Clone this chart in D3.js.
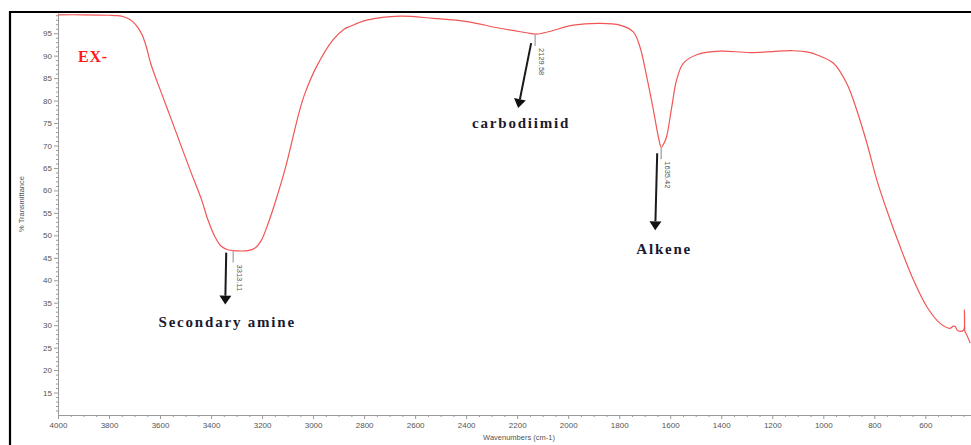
<!DOCTYPE html>
<html>
<head>
<meta charset="utf-8">
<script src="https://cdn.jsdelivr.net/npm/d3@7"></script>
<style>
  body { margin: 0; background: #fff; }
  .axis text { font-family: "Liberation Sans", Arial, sans-serif; font-size: 8px; fill: #555; }
  .axis path, .axis line { stroke: #9a9a9a; }
  .note { font-family: "Liberation Serif", "Times New Roman", serif; font-weight: bold; font-size: 15px; letter-spacing: 1.8px; fill: #1a1a2e; }
</style>
</head>
<body>
<div id="plot"></div>
<script>
// Spectrum (cm-1, %T)
const wavenumbers = [4000, 3900, 3800, 3765, 3740, 3720, 3702, 3686, 3670, 3655, 3634, 3594, 3555, 3516, 3477, 3437, 3412, 3385, 3359, 3335, 3313, 3255, 3229, 3202, 3176, 3150, 3111, 3072, 3052, 3032, 2987, 2922, 2876, 2856, 2790, 2660, 2529, 2398, 2268, 2163, 2130, 2100, 2059, 1980, 1876, 1797, 1745, 1719, 1692, 1666, 1645, 1635, 1622, 1614, 1594, 1575, 1549, 1496, 1405, 1287, 1117, 1060, 1026, 960, 908, 869, 829, 790, 751, 699, 647, 594, 542, 503, 490, 483, 475, 464, 450, 447, 444, 441, 424];
const transmittance = [99.1, 99.1, 99.0, 98.9, 98.6, 98.1, 97.3, 96.2, 94.6, 92.2, 87.8, 81.6, 75.7, 69.7, 63.8, 57.9, 53.4, 49.7, 47.5, 46.8, 46.6, 46.6, 47.1, 49.0, 52.7, 57.1, 64.5, 73.5, 78.0, 81.6, 87.5, 93.5, 96.0, 96.5, 97.9, 98.8, 98.3, 97.6, 96.1, 95.1, 94.8, 95.0, 95.6, 96.8, 97.2, 96.8, 95.3, 92.0, 85.3, 77.9, 71.5, 69.6, 70.8, 72.0, 78.6, 84.6, 88.3, 90.2, 91.0, 90.7, 91.1, 90.8, 90.2, 88.3, 83.8, 77.9, 70.5, 62.3, 55.6, 47.5, 40.1, 34.1, 30.4, 29.3, 29.8, 29.7, 28.9, 28.6, 28.9, 33.4, 28.4, 28.2, 26.0];

// Marked peaks
const peakWavenumbers = [3313.11, 2129.58, 1635.42];
const peakValues = [46.6, 94.8, 69.6];
const peakNames = ["Secondary amine", "carbodiimid", "Alkene"];

// Tick values
const xMajorTicks = d3.range(4000, 599, -200);
const xMinorTicks = d3.range(4000, 420, -50).filter(v => v % 200 !== 0);
const yMajorTicks = d3.range(15, 100, 5);
const yMinorTicks = d3.range(11, 100, 1).filter(v => v % 5 !== 0);

const data = wavenumbers.map((w, i) => ({wn: w, t: transmittance[i]}));

// The SVG dimensions
const W = 971, H = 445;
const margin = {top: 13, right: 0, bottom: 30, left: 58},
width = W - margin.left - margin.right,
height = H - margin.top - margin.bottom;

const x = d3.scaleLinear().domain([4000, 421]).range([0, width]);
const y = d3.scaleLinear().domain([10, 99.5]).range([height, 0]);

const svg = d3.select("#plot")
  .append("svg")
  .attr("width", W)
  .attr("height", H);

// black frame (clipped at right and bottom in the original)
svg.append("line").attr("x1", 9).attr("x2", W).attr("y1", 12).attr("y2", 12)
  .attr("stroke", "#000").attr("stroke-width", 2.2);
svg.append("line").attr("x1", 10).attr("x2", 10).attr("y1", 11).attr("y2", H)
  .attr("stroke", "#000").attr("stroke-width", 2.2);

const g = svg.append("g")
  .attr("transform", `translate(${margin.left},${margin.top})`);

// Axes
g.append("g").attr("class", "axis")
  .attr("transform", `translate(0,${height})`)
  .call(d3.axisBottom(x).tickValues(xMinorTicks).tickSize(2).tickSizeOuter(0).tickFormat(""));
g.append("g").attr("class", "axis")
  .attr("transform", `translate(0,${height})`)
  .call(d3.axisBottom(x).tickValues(xMajorTicks).tickSize(4).tickSizeOuter(0).tickPadding(3).tickFormat(d3.format("d")))
  .call(a => a.select(".domain").remove());

g.append("g").attr("class", "axis")
  .call(d3.axisLeft(y).tickValues(yMinorTicks).tickSize(2).tickSizeOuter(0).tickFormat(""));
g.append("g").attr("class", "axis")
  .call(d3.axisLeft(y).tickValues(yMajorTicks).tickSize(4).tickSizeOuter(0).tickPadding(2).tickFormat(d3.format("d")))
  .call(a => a.select(".domain").remove());

// Axis titles
svg.append("text")
  .attr("transform", "translate(24,204) rotate(-90)")
  .attr("text-anchor", "middle")
  .style("font-family", "Liberation Sans, Arial, sans-serif")
  .style("font-size", "7.5px").style("fill", "#555")
  .text("% Transmittance");
svg.append("text")
  .attr("x", 519).attr("y", 440)
  .attr("text-anchor", "middle")
  .style("font-family", "Liberation Sans, Arial, sans-serif")
  .style("font-size", "7.5px").style("fill", "#555")
  .text("Wavenumbers (cm-1)");

// Spectrum line
const valueline = d3.line()
  .x(d => x(d.wn))
  .y(d => y(d.t))
  .curve(d3.curveCatmullRom.alpha(0.5));

g.append("path")
  .datum(data)
  .attr("fill", "none")
  .attr("stroke", "#f25555")
  .attr("stroke-width", 1.2)
  .attr("d", valueline);

// Sample label
g.append("text")
  .attr("x", 20).attr("y", 49)
  .style("font-family", "Liberation Serif, Times New Roman, serif")
  .style("font-weight", "bold").style("font-size", "16px")
  .style("letter-spacing", "0.8px")
  .style("fill", "#ff1a1a")
  .text("EX-");

// Annotation layout: arrow start/end offsets from the peak, label offset
const noteLayout = [
  {sx: -7, sy: 2, ex: -8, ey: 54, tx: -6, ty: 76},
  {sx: -4, sy: 9, ex: -17, ey: 74, tx: -14, ty: 94},
  {sx: -4, sy: 6, ex: -6, ey: 83, tx: 3, ty: 107}
];

peakWavenumbers.forEach((w, i) => {
  const px = x(w), py = y(peakValues[i]);
  const L = noteLayout[i];

  // small grey peak tick and its rotated label
  g.append("line")
    .attr("x1", px).attr("x2", px).attr("y1", py).attr("y2", py + 12)
    .attr("stroke", "#b0b0b0").attr("stroke-width", 1.5);
  g.append("text")
    .attr("transform", `translate(${px + 4},${py + 14}) rotate(90)`)
    .style("font-family", "Liberation Sans, Arial, sans-serif")
    .style("font-size", "7.5px").style("fill", "#555")
    .text(w.toFixed(2));

  // arrow
  const x1 = px + L.sx, y1 = py + L.sy, x2 = px + L.ex, y2 = py + L.ey;
  const ang = Math.atan2(y2 - y1, x2 - x1);
  const hl = 9, hw = 6;
  const bx = x2 - hl * Math.cos(ang), by = y2 - hl * Math.sin(ang);
  g.append("line")
    .attr("x1", x1).attr("y1", y1).attr("x2", bx).attr("y2", by)
    .attr("stroke", "#1a1a1a").attr("stroke-width", 2);
  g.append("path")
    .attr("d", `M${x2},${y2}L${bx + hw * Math.sin(ang)},${by - hw * Math.cos(ang)}L${bx - hw * Math.sin(ang)},${by + hw * Math.cos(ang)}Z`)
    .attr("fill", "#111");

  g.append("text")
    .attr("class", "note")
    .attr("x", px + L.tx).attr("y", py + L.ty)
    .attr("text-anchor", "middle")
    .text(peakNames[i]);
});
</script>
</body>
</html>
